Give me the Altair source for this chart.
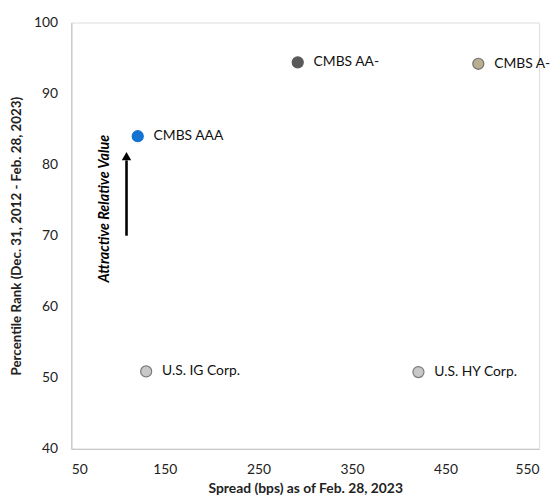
import altair as alt
import pandas as pd

names = ["CMBS AAA", "CMBS AA-", "CMBS A-", "U.S. IG Corp.", "U.S. HY Corp."]
spread = [121, 292, 485, 130, 421]
rank = [84.0, 94.4, 94.2, 50.9, 50.8]
fills = ["#1273D0", "#595959", "#B8AF90", "#C8C8C8", "#C8C8C8"]
strokes = ["#1273D0", "#595959", "#6E6E6E", "#7A7A7A", "#7A7A7A"]

arrow_x = [109, 109]
arrow_y = [70, 80.6]
arrow_tip = [81.2]
note_x = [86]
note_y = [73.8]
note_text = ["Attractive Relative Value"]

x_ticks = [50, 150, 250, 350, 450, 550]
y_ticks = [40, 50, 60, 70, 80, 90, 100]

df = pd.DataFrame({"name": names, "spread": spread, "rank": rank,
                   "fill": fills, "stroke": strokes})

FONT = "Lato"

xs = alt.Scale(domain=[50, 550], nice=False, zero=False)
ys = alt.Scale(domain=[40, 100], nice=False, zero=False)

x_enc = alt.X("spread:Q", scale=xs, axis=alt.Axis(
    title="Spread (bps) as of Feb. 28, 2023", values=x_ticks, grid=False, ticks=False,
    domainColor="#C8C8C8", domainWidth=1.3, labelFontSize=14, labelColor="#222222",
    labelFont=FONT, labelPadding=14, titleFont=FONT, titleFontSize=14,
    titleFontWeight="bold", titleColor="#222222", titlePadding=5))
y_enc = alt.Y("rank:Q", scale=ys, axis=alt.Axis(
    title="Percentile Rank (Dec. 31, 2012 - Feb. 28, 2023)", values=y_ticks, grid=False,
    ticks=False, domainColor="#C8C8C8", domainWidth=1.3, labelFontSize=14,
    labelColor="#222222", labelFont=FONT, labelPadding=14, titleFont=FONT,
    titleFontSize=13.5, titleFontWeight="bold", titleColor="#222222", titlePadding=10))

base = alt.Chart(df)

points = base.mark_point(filled=True, shape="circle", size=125, strokeWidth=1.2,
                         opacity=1).encode(
    x=x_enc, y=y_enc,
    fill=alt.Fill("fill:N", scale=None),
    stroke=alt.Stroke("stroke:N", scale=None),
)

labels = base.mark_text(align="left", baseline="middle", dx=16, fontSize=14,
                        font=FONT, color="#111111").encode(
    x="spread:Q", y="rank:Q", text="name:N")

arrow_df = pd.DataFrame({"x": arrow_x, "y": arrow_y})
shaft = alt.Chart(arrow_df).mark_line(color="black", strokeWidth=2.6).encode(
    x="x:Q", y="y:Q")

tip_df = pd.DataFrame({"x": [arrow_x[0]], "y": arrow_tip})
tip = alt.Chart(tip_df).mark_point(shape="triangle-up", filled=True, color="black",
                                   size=90, opacity=1).encode(x="x:Q", y="y:Q")

note_df = pd.DataFrame({"x": note_x, "y": note_y, "t": note_text})
note = alt.Chart(note_df).mark_text(angle=270, fontSize=14.5, fontWeight="bold",
                                    fontStyle="italic", font=FONT, color="black",
                                    align="center", baseline="middle").encode(
    x="x:Q", y="y:Q", text="t:N")

chart = alt.layer(points, labels, shaft, tip, note).properties(
    width=473, height=431,
    autosize=alt.AutoSizeParams(type="none"),
    padding={"left": 64, "top": 12, "right": 13, "bottom": 48},
).configure_view(stroke=None).configure(background="white")

chart.save("out.html", embed_options={"renderer": "svg", "actions": False})
